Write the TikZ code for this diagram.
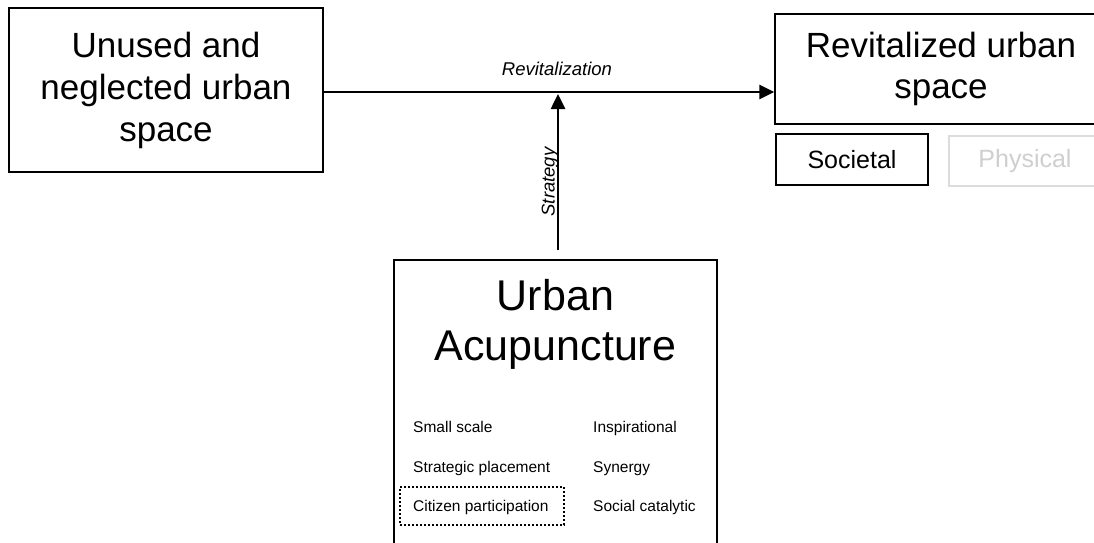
\documentclass[tikz,border=0pt]{standalone}
\usepackage{fontspec}
\setmainfont{Liberation Sans}
\usetikzlibrary{arrows.meta}
\definecolor{lightline}{HTML}{DCDCDC}
\definecolor{lighttext}{HTML}{CFCFCF}
\tikzset{
  box/.style={draw, line width=1.3pt, inner sep=0pt, align=center},
  arr/.style={line width=2.6pt, -{Triangle[length=15pt,width=14pt]}},
  lbl/.style={font=\fontsize{18.5}{20}\selectfont\itshape, inner sep=0pt},
  item/.style={font=\fontsize{15.5}{17}\selectfont, anchor=base west, inner sep=0pt},
}
\begin{document}
\begin{tikzpicture}[x=1pt,y=-1pt]
\clip (0,0) rectangle (1094,542);
\useasboundingbox (0,0) rectangle (1094,542);
\fill[white] (0,0) rectangle (1094,542);

% boxes
\node[box, minimum width=314pt, minimum height=164pt,
      font=\fontsize{35}{42}\selectfont] (lb) at (166,90)
      {Unused and\\neglected urban\\space};
\node[box, minimum width=332pt, minimum height=110pt,
      font=\fontsize{35}{41}\selectfont] (rb) at (941,69)
      {Revitalized urban\\space};
\node[box, minimum width=152pt, minimum height=51pt,
      font=\fontsize{25}{28}\selectfont] (soc) at (852,159.5) {Societal};
\node[box, draw=lightline, text=lighttext, minimum width=152pt, minimum height=50pt,
      font=\fontsize{25}{28}\selectfont] (phy) at (1025,161) {Physical};

\node[box, minimum width=323pt, minimum height=320pt] (ub) at (555.5,420) {};
\node[font=\fontsize{43}{50}\selectfont, align=center, inner sep=0pt] (ut) at (555.5,324)
      {Urban\\Acupuncture};

\node[item] (i1) at (413,432) {Small scale};
\node[item] (i2) at (413,472) {Strategic placement};
\node[item] (i3) at (413,511) {Citizen participation};
\node[item] (i4) at (593,432) {Inspirational};
\node[item] (i5) at (593,472) {Synergy};
\node[item] (i6) at (593,511) {Social catalytic};
\node[draw, line width=2.2pt, dash pattern=on 2pt off 2pt,
      minimum width=164pt, minimum height=38pt, inner sep=0pt] (cp) at (482,506) {};

% connectors
\coordinate (h) at (0,92);
\coordinate (vs) at (558,250);
\coordinate (ve) at (558,94);
\draw[arr] (lb.east |- h) -- (rb.west |- h);
\draw[arr] (vs) -- (ve);

\node[lbl, anchor=base] (rl) at (557,75) {Revitalization};
\node[lbl, anchor=base, rotate=90] (sl) at (554.5,182) {Strategy};
\end{tikzpicture}
\end{document}
